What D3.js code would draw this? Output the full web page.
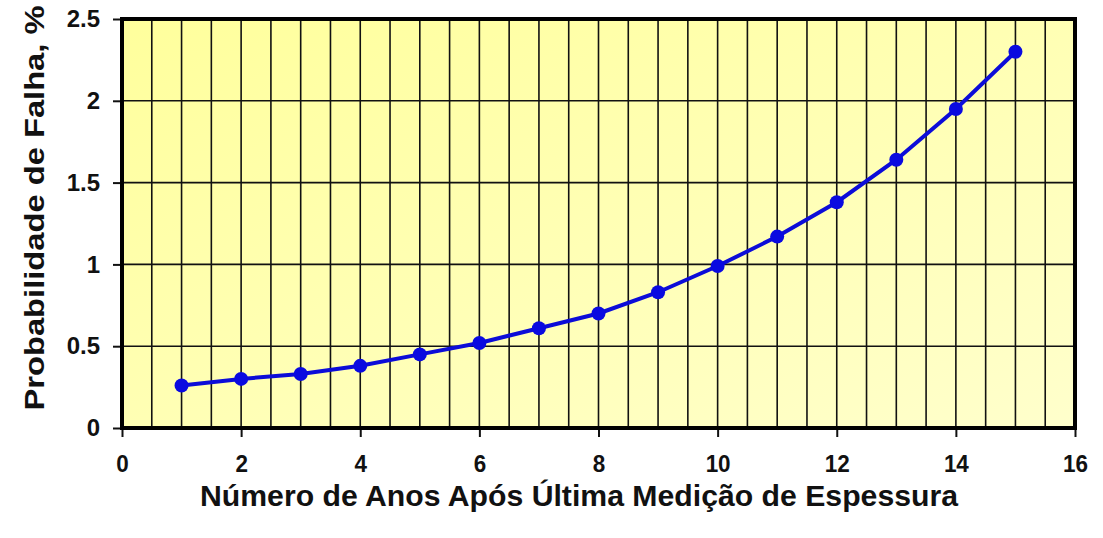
<!DOCTYPE html>
<html>
<head>
<meta charset="utf-8">
<script src="https://cdn.jsdelivr.net/npm/d3@7"></script>
<style>
  body { margin: 0; background: #fff; }
  text { font-family: "Liberation Sans", Arial, sans-serif; font-weight: bold; fill: #111; }
</style>
</head>
<body>
<div id="chart"></div>
<script>
// data
const years = [1, 2, 3, 4, 5, 6, 7, 8, 9, 10, 11, 12, 13, 14, 15];
const probFalha = [0.26, 0.30, 0.33, 0.38, 0.45, 0.52, 0.61, 0.70, 0.83, 0.99, 1.17, 1.38, 1.64, 1.95, 2.30];
const xTicks = [0, 2, 4, 6, 8, 10, 12, 14, 16];
const yTicks = [0, 0.5, 1, 1.5, 2, 2.5];
const xGrid = d3.range(0.5, 16, 0.5);
const xTitle = "Número de Anos Após Última Medição de Espessura";
const yTitle = "Probabilidade de Falha, %";

const W = 1103, H = 538;
const mLeft = 122, mRight = 1075, mTop = 19, mBottom = 428;

const svg = d3.select("#chart").append("svg")
  .attr("width", W).attr("height", H);

const defs = svg.append("defs");
const grad = defs.append("linearGradient").attr("id", "bg")
  .attr("x1", "0%").attr("y1", "0%").attr("x2", "100%").attr("y2", "100%");
grad.append("stop").attr("offset", "0%").attr("stop-color", "#ffff9c");
grad.append("stop").attr("offset", "100%").attr("stop-color", "#ffffcc");

const x = d3.scaleLinear().domain([0, 16]).range([mLeft, mRight]);
const y = d3.scaleLinear().domain([0, 2.5]).range([mBottom, mTop]);

// plot background
svg.append("rect")
  .attr("x", mLeft).attr("y", mTop)
  .attr("width", mRight - mLeft).attr("height", mBottom - mTop)
  .attr("fill", "url(#bg)");

// grid
svg.append("g").selectAll("line").data(xGrid).join("line")
  .attr("x1", d => x(d)).attr("x2", d => x(d))
  .attr("y1", mTop).attr("y2", mBottom)
  .attr("stroke", "#111").attr("stroke-width", 1.6);

svg.append("g").selectAll("line").data(yTicks.slice(1, -1)).join("line")
  .attr("x1", mLeft).attr("x2", mRight)
  .attr("y1", d => y(d)).attr("y2", d => y(d))
  .attr("stroke", "#111").attr("stroke-width", 1.6);

// axes
const xAxis = svg.append("g")
  .attr("transform", `translate(0,${mBottom})`)
  .call(d3.axisBottom(x).tickValues(xTicks).tickSize(9).tickPadding(18).tickFormat(d3.format("d")));
const yAxis = svg.append("g")
  .attr("transform", `translate(${mLeft},0)`)
  .call(d3.axisLeft(y).tickValues(yTicks).tickSize(9).tickPadding(13).tickFormat(d => d));

[xAxis, yAxis].forEach(a => {
  a.attr("font-size", null).attr("font-family", null);
  a.select(".domain").remove();
  a.selectAll("line").attr("stroke", "#111").attr("stroke-width", 2);
  a.selectAll("text")
    .style("font-size", "24px")
    .style("font-family", "'Liberation Sans', Arial, sans-serif")
    .style("font-weight", "bold")
    .attr("fill", "#111");
});
xAxis.selectAll("text").attr("textLength", d => String(d).length * 12.5).attr("lengthAdjust", "spacingAndGlyphs");

// frame
svg.append("rect")
  .attr("x", mLeft).attr("y", mTop)
  .attr("width", mRight - mLeft).attr("height", mBottom - mTop)
  .attr("fill", "none").attr("stroke", "#000").attr("stroke-width", 4);

// series
const line = d3.line().x((d, i) => x(years[i])).y(d => y(d));
svg.append("path").datum(probFalha)
  .attr("d", line)
  .attr("fill", "none").attr("stroke", "#0c0cd8").attr("stroke-width", 4);

svg.append("g").selectAll("circle").data(probFalha).join("circle")
  .attr("cx", (d, i) => x(years[i])).attr("cy", d => y(d))
  .attr("r", 7).attr("fill", "#0a0ae0");

// titles
svg.append("text")
  .attr("x", 579).attr("y", 506)
  .attr("text-anchor", "middle")
  .attr("textLength", 758).attr("lengthAdjust", "spacingAndGlyphs")
  .style("font-size", "29px")
  .text(xTitle);

svg.append("text")
  .attr("transform", "translate(44,208) rotate(-90)")
  .attr("text-anchor", "middle")
  .attr("textLength", 405).attr("lengthAdjust", "spacingAndGlyphs")
  .style("font-size", "28px")
  .text(yTitle);
</script>
</body>
</html>
